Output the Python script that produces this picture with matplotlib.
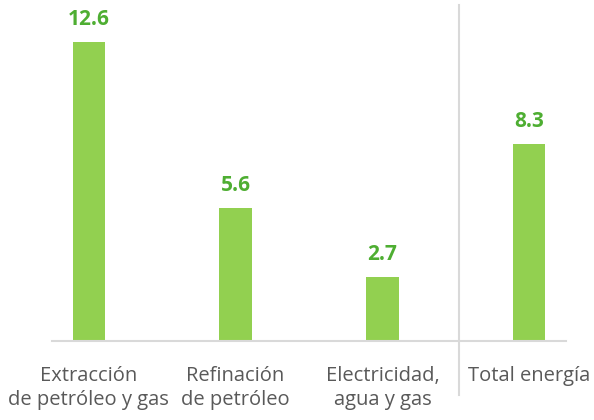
import matplotlib
matplotlib.use("Agg")
import matplotlib.pyplot as plt

categories = ["Extracción\nde petróleo y gas", "Refinación\nde petróleo",
              "Electricidad,\nagua y gas", "Total energía"]
values = [12.6, 5.6, 2.7, 8.3]
value_labels = ["12.6", "5.6", "2.7", "8.3"]

plt.rcParams['font.family'] = ['Open Sans', 'DejaVu Sans']

fig = plt.figure(figsize=(5.94, 4.20), dpi=100)
ax = fig.add_axes([52/594, (420-341)/420, (566-52)/594, (341-5)/420])

x = list(range(len(values)))
bars = ax.bar(x, values, width=0.22, color="#92D050", zorder=2)
ax.set_xlim(-0.25, 3.25)
ax.set_ylim(0, 14.16)

for xi, v, lab in zip(x, values, value_labels):
    ax.annotate(lab, (xi, v), xytext=(0, 8.5), textcoords="offset points",
                ha="center", va="bottom", fontsize=15, fontweight="bold",
                color="#4EAE32")

ax.set_xticks(x)
ax.set_xticklabels(categories, fontsize=14.5, color="#595959", linespacing=1.3)
ax.tick_params(axis="x", length=0, pad=18)
ax.set_yticks([])
for s in ["top", "right", "left"]:
    ax.spines[s].set_visible(False)
ax.spines["bottom"].set_color("#D9D9D9")
ax.spines["bottom"].set_linewidth(1.5)

ax.plot([2.52, 2.52], [-(395-341)/336, 1.0], transform=ax.get_xaxis_transform(),
        color="#D9D9D9", lw=1.5, clip_on=False, zorder=1)

fig.savefig("out.png", dpi=100)
